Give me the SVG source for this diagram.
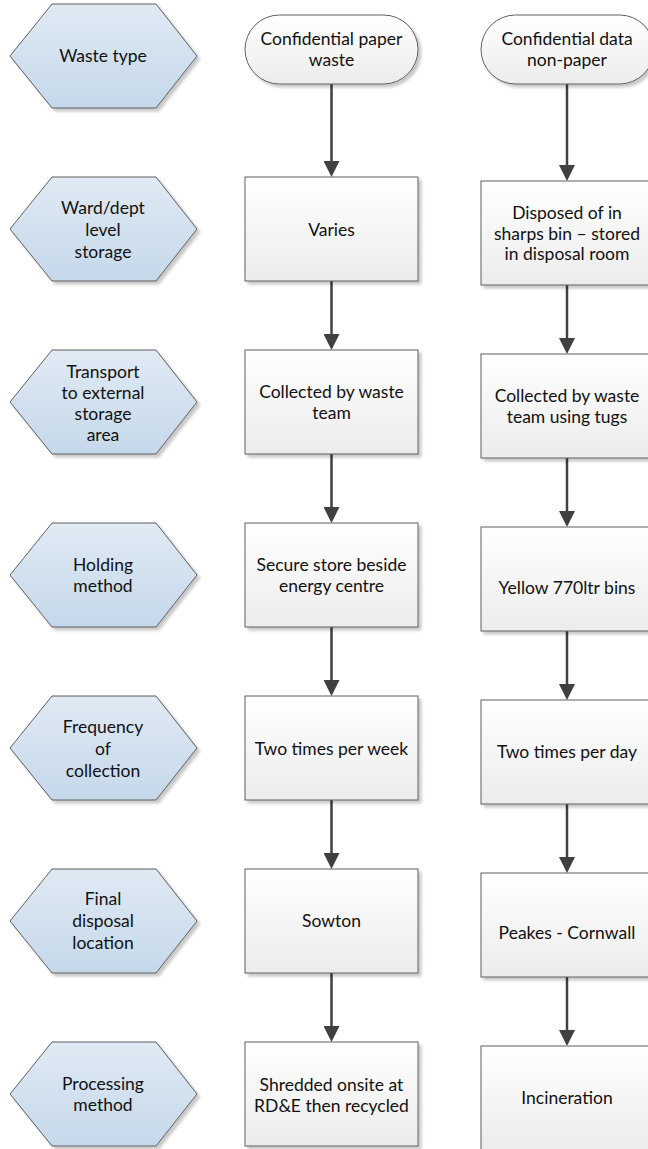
<svg xmlns="http://www.w3.org/2000/svg" width="648" height="1149" viewBox="0 0 648 1149">
<style>
text{font-family:Lato,"Open Sans","Liberation Sans",sans-serif;font-size:17.5px;fill:#111;text-anchor:middle}
.hex{fill:url(#gHex);stroke:#5f5f5f;stroke-width:1;filter:url(#sh)}
.box{fill:url(#gBox);stroke:#5f5f5f;stroke-width:1;filter:url(#sh)}
.conn line{stroke:#404040;stroke-width:2.5;marker-end:url(#ah)}
</style>
<defs>
<linearGradient id="gHex" x1="0" y1="0" x2="0" y2="1"><stop offset="0" stop-color="#e0eaf4"/><stop offset="1" stop-color="#c5d8ea"/></linearGradient>
<linearGradient id="gBox" x1="0" y1="0" x2="0" y2="1"><stop offset="0" stop-color="#ffffff"/><stop offset="1" stop-color="#ececec"/></linearGradient>
<filter id="sh" x="-10%" y="-10%" width="125%" height="125%"><feGaussianBlur in="SourceAlpha" stdDeviation="1.5"/><feOffset dx="3" dy="3"/><feComponentTransfer><feFuncA type="linear" slope="0.22"/></feComponentTransfer><feMerge><feMergeNode/><feMergeNode in="SourceGraphic"/></feMerge></filter>
<marker id="ah" viewBox="0 0 16 16" refX="0" refY="8" markerWidth="16" markerHeight="16" markerUnits="userSpaceOnUse" orient="auto"><path d="M0,0 L16,8 L0,16 z" fill="#404040"/></marker>
</defs>

<g class="conn" id="connectors">
<line x1="331.5" y1="84" x2="331.5" y2="161"/>
<line x1="567" y1="84" x2="567" y2="165"/>
<line x1="331.5" y1="281" x2="331.5" y2="334"/>
<line x1="567" y1="285" x2="567" y2="338"/>
<line x1="331.5" y1="454" x2="331.5" y2="507"/>
<line x1="567" y1="458" x2="567" y2="511"/>
<line x1="331.5" y1="627" x2="331.5" y2="680"/>
<line x1="567" y1="631" x2="567" y2="684"/>
<line x1="331.5" y1="800" x2="331.5" y2="853"/>
<line x1="567" y1="804" x2="567" y2="857"/>
<line x1="331.5" y1="973" x2="331.5" y2="1026"/>
<line x1="567" y1="977" x2="567" y2="1030"/>
</g>

<g id="h1"><polygon class="hex" points="10,56 52,4 156,4 197,56 156,108 52,108"/><text x="103" y="56" dy="0.35em">Waste type</text></g>
<g id="h2"><polygon class="hex" points="10,229 52,177 156,177 197,229 156,281 52,281"/><text x="103" y="208" dy="0.35em">Ward/dept</text><text x="103" y="230" dy="0.35em">level</text><text x="103" y="252" dy="0.35em">storage</text></g>
<g id="h3"><polygon class="hex" points="10,402 52,350 156,350 197,402 156,454 52,454"/><text x="103" y="372" dy="0.35em">Transport</text><text x="103" y="393" dy="0.35em">to external</text><text x="103" y="414" dy="0.35em">storage</text><text x="103" y="435" dy="0.35em">area</text></g>
<g id="h4"><polygon class="hex" points="10,575 52,523 156,523 197,575 156,627 52,627"/><text x="103" y="565" dy="0.35em">Holding</text><text x="103" y="586" dy="0.35em">method</text></g>
<g id="h5"><polygon class="hex" points="10,748 52,696 156,696 197,748 156,800 52,800"/><text x="103" y="727" dy="0.35em">Frequency</text><text x="103" y="749" dy="0.35em">of</text><text x="103" y="771" dy="0.35em">collection</text></g>
<g id="h6"><polygon class="hex" points="10,921 52,869 156,869 197,921 156,973 52,973"/><text x="103" y="899" dy="0.35em">Final</text><text x="103" y="921" dy="0.35em">disposal</text><text x="103" y="943" dy="0.35em">location</text></g>
<g id="h7"><polygon class="hex" points="10,1094 52,1042 156,1042 197,1094 156,1146 52,1146"/><text x="103" y="1084" dy="0.35em">Processing</text><text x="103" y="1105" dy="0.35em">method</text></g>

<g id="t1"><rect class="box" x="245" y="15" width="173" height="69" rx="34.5"/><text x="331.5" y="39" dy="0.35em">Confidential paper</text><text x="331.5" y="60" dy="0.35em">waste</text></g>
<g id="t2"><rect class="box" x="481" y="15" width="173" height="69" rx="34.5"/><text x="567" y="39" dy="0.35em">Confidential data</text><text x="567" y="60" dy="0.35em">non-paper</text></g>

<g id="a1"><rect class="box" x="245" y="177" width="173" height="104"/><text x="331.5" y="230" dy="0.35em">Varies</text></g>
<g id="a2"><rect class="box" x="245" y="350" width="173" height="104"/><text x="331.5" y="392" dy="0.35em">Collected by waste</text><text x="331.5" y="413" dy="0.35em">team</text></g>
<g id="a3"><rect class="box" x="245" y="523" width="173" height="104"/><text x="331.5" y="565" dy="0.35em">Secure store beside</text><text x="331.5" y="586" dy="0.35em">energy centre</text></g>
<g id="a4"><rect class="box" x="245" y="696" width="173" height="104"/><text x="331.5" y="749" dy="0.35em">Two times per week</text></g>
<g id="a5"><rect class="box" x="245" y="869" width="173" height="104"/><text x="331.5" y="921" dy="0.35em">Sowton</text></g>
<g id="a6"><rect class="box" x="245" y="1042" width="173" height="104"/><text x="331.5" y="1085" dy="0.35em">Shredded onsite at</text><text x="331.5" y="1106" dy="0.35em">RD&amp;E then recycled</text></g>

<g id="b1"><rect class="box" x="481" y="181" width="173" height="104"/><text x="567" y="213" dy="0.35em">Disposed of in</text><text x="567" y="233.5" dy="0.35em">sharps bin – stored</text><text x="567" y="254" dy="0.35em">in disposal room</text></g>
<g id="b2"><rect class="box" x="481" y="354" width="173" height="104"/><text x="567" y="396" dy="0.35em">Collected by waste</text><text x="567" y="417" dy="0.35em">team using tugs</text></g>
<g id="b3"><rect class="box" x="481" y="527" width="173" height="104"/><text x="567" y="588" dy="0.35em">Yellow 770ltr bins</text></g>
<g id="b4"><rect class="box" x="481" y="700" width="173" height="104"/><text x="567" y="752" dy="0.35em">Two times per day</text></g>
<g id="b5"><rect class="box" x="481" y="873" width="173" height="104"/><text x="567" y="933" dy="0.35em">Peakes - Cornwall</text></g>
<g id="b6"><rect class="box" x="481" y="1046" width="173" height="104"/><text x="567" y="1098" dy="0.35em">Incineration</text></g>
</svg>
